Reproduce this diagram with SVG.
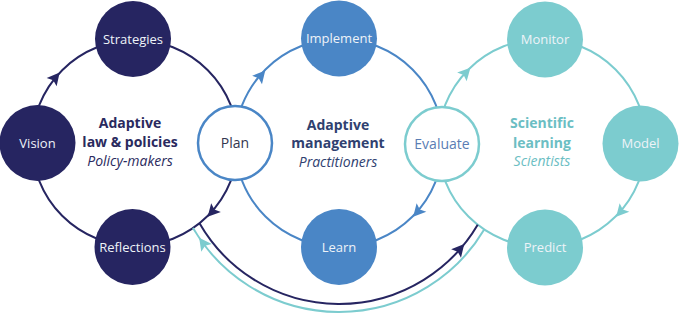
<svg xmlns="http://www.w3.org/2000/svg" width="680" height="315" viewBox="0 0 680 315">
<style>
text{font-family:"Open Sans","Liberation Sans",sans-serif;text-anchor:middle}
.ring{fill:none;stroke-width:2}
.lbl{font-size:13px;fill:#eef3f8}
.title{font-size:14px;font-weight:bold}
.sub{font-size:14px;font-style:italic}
.navy{fill:#262561}
.blue{fill:#4a86c6}
.teal{fill:#7ccccf}
</style>
<defs>
<path id="ah" d="M6.5,0 L-6,-6.5 L-3.5,0 L-6,6.5 Z"/>
</defs>
<g id="connectors">
<circle class="ring" cx="135" cy="143" r="103" stroke="#262561"/>
<circle class="ring" cx="339" cy="143" r="104" stroke="#4a86c6"/>
<circle class="ring" cx="542" cy="143" r="104" stroke="#7ccccf"/>
<path class="ring" d="M199.5,223.3 A161,161 0 0 0 477.7,224.7" stroke="#262561"/>
<path class="ring" d="M484.2,229.5 A169,169 0 0 1 193,228" stroke="#7ccccf"/>
<use href="#ah" class="navy" transform="translate(55.5,77.5) rotate(-50)"/>
<use href="#ah" class="navy" transform="translate(212,212) rotate(132)"/>
<use href="#ah" class="blue" transform="translate(261,75.5) rotate(-49)"/>
<use href="#ah" class="blue" transform="translate(417.5,212) rotate(131.5)"/>
<use href="#ah" class="teal" transform="translate(466,72.5) rotate(-47)"/>
<use href="#ah" class="teal" transform="translate(620.5,212) rotate(131.5)"/>
<use href="#ah" class="navy" transform="translate(460,249) rotate(-49)"/>
<use href="#ah" class="teal" transform="translate(203,243) rotate(234)"/>
</g>
<g id="strategies"><circle cx="133" cy="39" r="38" class="navy"/><text class="lbl" x="133" y="43.5">Strategies</text></g>
<g id="vision"><circle cx="37.5" cy="143" r="38" class="navy"/><text class="lbl" x="37.5" y="147.5">Vision</text></g>
<g id="reflections"><circle cx="132.5" cy="247" r="38" class="navy"/><text class="lbl" x="132.5" y="251.5">Reflections</text></g>
<g id="plan"><circle cx="235" cy="143" r="37" fill="#fff" stroke="#4a86c6" stroke-width="2.5"/><text x="235" y="148" font-size="14" fill="#33364f">Plan</text></g>
<g id="implement"><circle cx="339" cy="38.5" r="38" class="blue"/><text class="lbl" x="339" y="43">Implement</text></g>
<g id="learn"><circle cx="339" cy="247" r="38" class="blue"/><text class="lbl" x="339" y="252" font-size="14">Learn</text></g>
<g id="evaluate"><circle cx="442" cy="144" r="37" fill="#fff" stroke="#7ccccf" stroke-width="2.5"/><text x="442" y="149" font-size="14" fill="#5a7db4">Evaluate</text></g>
<g id="monitor"><circle cx="545" cy="39.5" r="38" class="teal"/><text class="lbl" x="545" y="44">Monitor</text></g>
<g id="model"><circle cx="640.5" cy="143.5" r="38" class="teal"/><text class="lbl" x="640.5" y="148">Model</text></g>
<g id="predict"><circle cx="545" cy="247.5" r="38" class="teal"/><text class="lbl" x="545" y="252">Predict</text></g>
<g id="law-policies">
<text class="title" x="130" y="128" fill="#2a2a5e">Adaptive</text>
<text class="title" x="130" y="147" fill="#2a2a5e">law &amp; policies</text>
<text class="sub" x="130" y="166" fill="#2a2a5e">Policy-makers</text>
</g>
<g id="management">
<text class="title" x="338" y="130" fill="#2f4170">Adaptive</text>
<text class="title" x="338" y="148" fill="#2f4170">management</text>
<text class="sub" x="338" y="167" fill="#2f4170">Practitioners</text>
</g>
<g id="scientific">
<text class="title" x="542" y="128" fill="#6bbec3">Scientific</text>
<text class="title" x="542" y="148" fill="#6bbec3">learning</text>
<text class="sub" x="542" y="166" fill="#6bbec3">Scientists</text>
</g>
</svg>
